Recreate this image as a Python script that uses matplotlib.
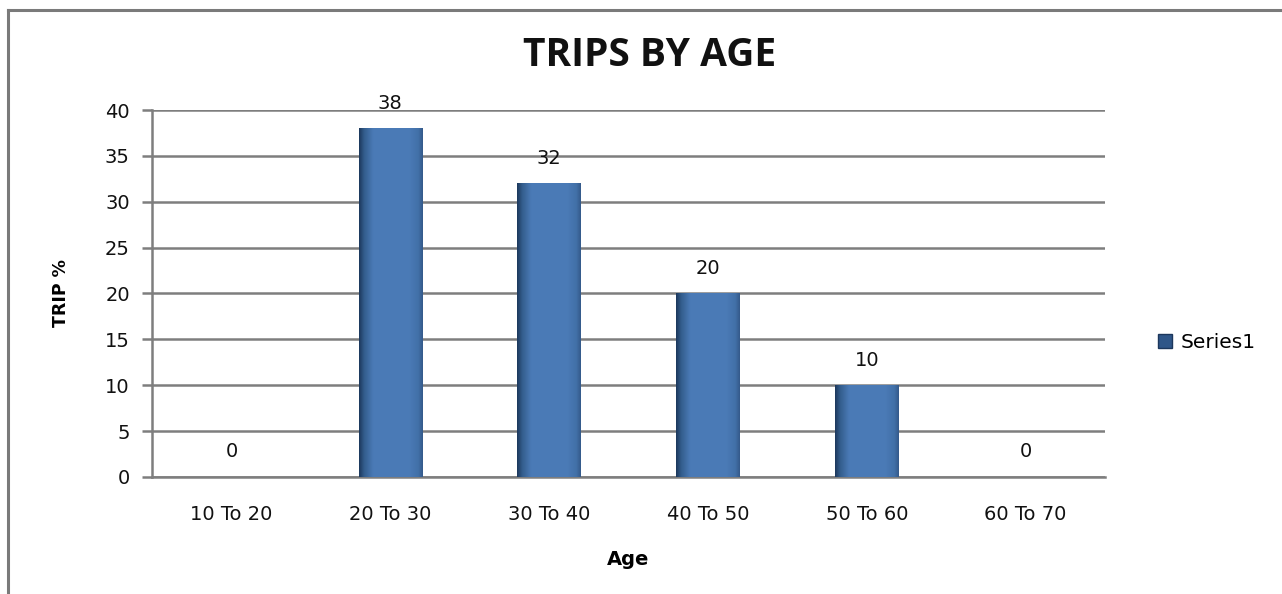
import matplotlib.pyplot as plt
import numpy as np
from matplotlib.colors import LinearSegmentedColormap
from matplotlib.lines import Line2D

plt.rcParams["font.family"] = ["DejaVu Sans"]

age_groups = ["10 To 20", "20 To 30", "30 To 40", "40 To 50", "50 To 60", "60 To 70"]
trip_pct = [0, 38, 32, 20, 10, 0]

fig = plt.figure(figsize=(12.82, 5.94), dpi=100)
ax = fig.add_axes([0.1186, 0.197, 0.7434, 0.6178])

grid_color = "#7e7e7e"
x = np.arange(len(age_groups))
bars = ax.bar(x, trip_pct, width=0.40, color="#4a7ab5", zorder=3, label="Series1")

# shaded fill for each bar: dark left edge, lighter body, slightly darker right edge
shade = LinearSegmentedColormap.from_list(
    "bar_shade",
    [(0.0, "#1c375c"), (0.08, "#335d8c"), (0.22, "#4a7ab6"),
     (0.78, "#4b7bb7"), (0.93, "#4270a8"), (1.0, "#34598a")],
)
grad = np.linspace(0, 1, 256).reshape(1, -1)
for b in bars:
    if b.get_height() <= 0:
        continue
    x0, w, h = b.get_x(), b.get_width(), b.get_height()
    im = ax.imshow(grad, cmap=shade, aspect="auto", extent=(x0, x0 + w, 0, h),
                   zorder=4, interpolation="bilinear")
    im.set_clip_path(b)

for xi, v in zip(x, trip_pct):
    ax.annotate(str(v), (xi, v), xytext=(0, 18), textcoords="offset points",
                ha="center", va="center", fontsize=14, color="#111111", zorder=5)

ax.set_xlim(-0.5, len(age_groups) - 0.5)
ax.set_ylim(0, 40)
ax.set_yticks(np.arange(0, 41, 5))
ax.set_xticks(x)
ax.set_xticklabels(age_groups)

ax.grid(axis="y", color=grid_color, linewidth=1.8, zorder=1)
ax.set_axisbelow(True)
for s in ["top", "right"]:
    ax.spines[s].set_visible(False)
for s in ["left", "bottom"]:
    ax.spines[s].set_color(grid_color)
    ax.spines[s].set_linewidth(1.8)
ax.tick_params(axis="y", length=7, width=1.8, color=grid_color, pad=9,
               labelsize=14, labelcolor="#111111")
ax.tick_params(axis="x", length=0, pad=20, labelsize=14, labelcolor="#111111")

ax.set_xlabel("Age", fontsize=14, fontweight="bold")
ax.xaxis.set_label_coords(0.5, -0.226)
ax.xaxis.label.set_va("center")
ax.set_ylabel("TRIP %", fontsize=12.5, fontweight="bold")
ax.yaxis.set_label_coords(-0.096, 0.5)
ax.yaxis.label.set_va("center")

fig.text(0.507, 0.9066, "TRIPS BY AGE", ha="center", va="center",
         family="Open Sans", fontsize=28, fontweight="bold", color="#111111")

handle = plt.Rectangle((0, 0), 1, 1, facecolor="#2f5688", edgecolor="#1c375c")
fig.legend([handle], ["Series1"], loc="center left", bbox_to_anchor=(0.889, 0.4226),
           frameon=False, fontsize=14.5, handlelength=0.7, handleheight=0.7,
           handletextpad=0.45)

# outer chart frame
fig.add_artist(Line2D([8 / 1282, 1.0], [1 - 10 / 594, 1 - 10 / 594],
                      transform=fig.transFigure, color="#7a7a7a", linewidth=2.2))
fig.add_artist(Line2D([8 / 1282, 8 / 1282], [0.0, 1 - 10 / 594],
                      transform=fig.transFigure, color="#7a7a7a", linewidth=2.2))

fig.savefig("out.png", dpi=100)
